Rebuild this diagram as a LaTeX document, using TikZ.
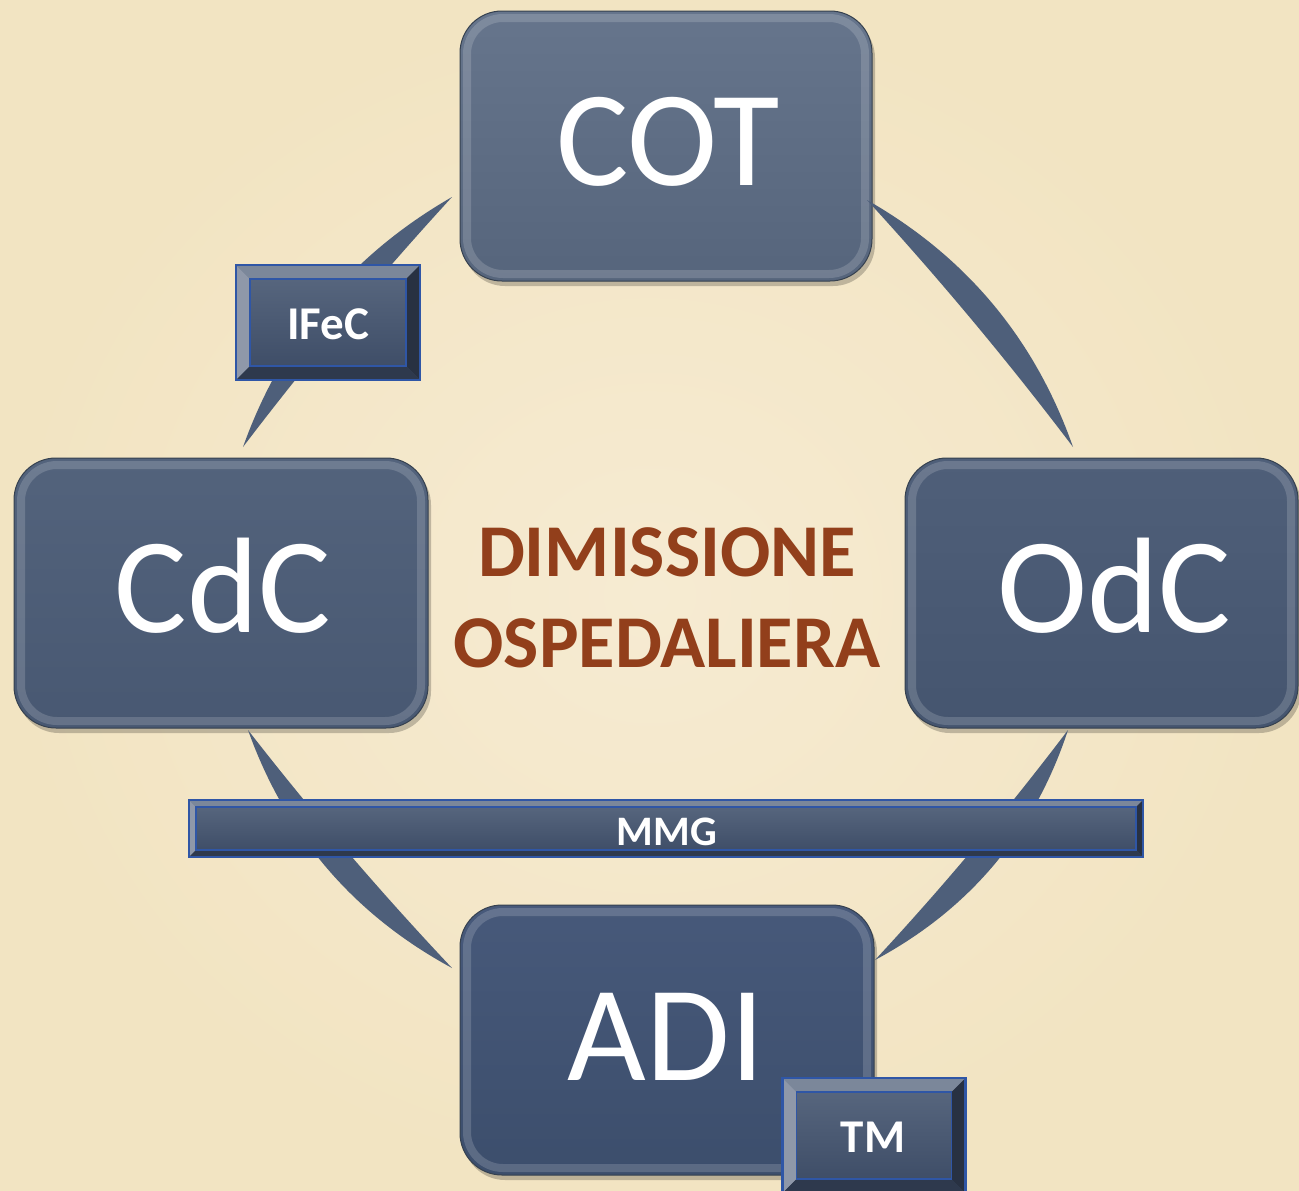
\documentclass[tikz,border=0pt]{standalone}
\usepackage{fontspec}
\setmainfont{Carlito}
\usetikzlibrary{calc}
\definecolor{bg}{HTML}{F2E4C2}
\definecolor{bgc}{HTML}{F6EBD2}
\definecolor{connc}{HTML}{4E5F7A}
\definecolor{cotT}{HTML}{66758C}
\definecolor{cotB}{HTML}{56657C}
\definecolor{cdcT}{HTML}{53637C}
\definecolor{cdcB}{HTML}{485872}
\definecolor{odcT}{HTML}{4F5F79}
\definecolor{odcB}{HTML}{45556F}
\definecolor{adiT}{HTML}{47597A}
\definecolor{adiB}{HTML}{3C4E6C}
\definecolor{boxline}{HTML}{36414F}
\definecolor{facetop}{HTML}{5A6981}
\definecolor{facebot}{HTML}{3B4A64}
\definecolor{bvtop}{HTML}{7B879A}
\definecolor{bvleft}{HTML}{8F98A9}
\definecolor{bvright}{HTML}{283142}
\definecolor{bvbot}{HTML}{2E394D}
\definecolor{bevblue}{HTML}{2F56A6}
\definecolor{brownc}{HTML}{923F1B}
\tikzset{
  bigbox/.style={rounded corners=42pt, draw=boxline, line width=1pt, inner sep=0pt, outer sep=0pt},
  conn/.style={fill=connc},
  bevnode/.style={top color=facetop, bottom color=facebot, inner sep=0pt, outer sep=0pt},
  biglbl/.style={text=white, font=\fontsize{136}{140}\selectfont, anchor=base, inner sep=0pt},
  smlbl/.style={text=white, font=\bfseries\fontsize{47}{50}\selectfont, anchor=base, inner sep=0pt},
  ctrlbl/.style={text=brownc, font=\bfseries\fontsize{74.5}{80}\selectfont, anchor=base, inner sep=0pt},
  hilite/.style={rounded corners=36pt, draw=white, draw opacity=0.16, line width=8pt},
  shadowc/.style={rounded corners=42pt, fill=black, fill opacity=0.22}
}
\newcommand\crescent[2]{%
  \coordinate (cp1) at ($(#1)!0.3333!(#2)$);
  \coordinate (cp2) at ($(#1)!0.6667!(#2)$);
  \fill[conn] (#1) .. controls ($(cp1)!40pt!90:(#2)$) and ($(cp2)!40pt!-90:(#1)$) .. (#2)
              .. controls ($(cp2)!5pt!-90:(#1)$) and ($(cp1)!5pt!90:(#2)$) .. (#1) -- cycle;}
\newcommand\bevbox[5]{%
  \node[bevnode, minimum width=#3pt, minimum height=#4pt] (#1) at (#2) {};
  \fill[bvtop] (#1.north west) -- (#1.north east) -- ($(#1.north east)+(-#5,#5)$) -- ($(#1.north west)+(#5,#5)$) -- cycle;
  \fill[bvleft] (#1.north west) -- ($(#1.north west)+(#5,#5)$) -- ($(#1.south west)+(#5,-#5)$) -- (#1.south west) -- cycle;
  \fill[bvright] (#1.north east) -- ($(#1.north east)+(-#5,#5)$) -- ($(#1.south east)+(-#5,-#5)$) -- (#1.south east) -- cycle;
  \fill[bvbot] (#1.south west) -- ($(#1.south west)+(#5,-#5)$) -- ($(#1.south east)+(-#5,-#5)$) -- (#1.south east) -- cycle;
  \draw[bevblue, line width=1.5pt] ($(#1.north west)+(#5,#5)$) rectangle ($(#1.south east)+(-#5,-#5)$);
  \draw[bevblue, line width=2.5pt] (#1.north west) rectangle (#1.south east);}
\newcommand\bigbx[5]{% name, center, width, top col, bottom col
  \fill[shadowc] ($(#2)+(-#3/2+3,-135+5)$) rectangle ($(#2)+(#3/2+3,135+5)$);
  \node[bigbox, top color=#4, bottom color=#5, minimum width=#3pt, minimum height=270pt] (#1) at (#2) {};
  \draw[hilite] ($(#1.north west)+(7,7)$) rectangle ($(#1.south east)+(-7,-7)$);}
\begin{document}
\begin{tikzpicture}[x=1pt,y=-1pt]
\useasboundingbox (0,0) rectangle (1299,1191);
\begin{scope}
\clip (0,0) rectangle (1299,1191);
\fill[inner color=bgc, outer color=bg] (0,0) rectangle (1299,1191);

% big boxes
\bigbx{COT}{666,146}{412}{cotT}{cotB}
\bigbx{CdC}{221,593}{414}{cdcT}{cdcB}
\bigbx{OdC}{1101.5,593}{393}{odcT}{odcB}
\bigbx{ADI}{667,1040}{414}{adiT}{adiB}

% connector end points
\coordinate (c1a) at ($(CdC.north)+(22,-11)$);
\coordinate (c1b) at ($(COT.west)+(-8,51)$);
\coordinate (c2a) at ($(COT.east)+(-5,54)$);
\coordinate (c2b) at ($(OdC.north)+(-28.5,-11)$);
\coordinate (c3a) at ($(OdC.south)+(-33.5,2)$);
\coordinate (c3b) at ($(ADI.east)+(1,-80)$);
\coordinate (c4a) at ($(ADI.west)+(-8,-72)$);
\coordinate (c4b) at ($(CdC.south)+(27,2)$);
\crescent{c1a}{c1b}
\crescent{c2a}{c2b}
\crescent{c3a}{c3b}
\crescent{c4a}{c4b}

% labels of big boxes
\node[biglbl] (COTt) at (668,185) {COT};
\node[biglbl] (CdCt) at (223,632) {CdC};
\node[biglbl] (OdCt) at (1114,632) {OdC};
\node[biglbl] (ADIt) at (666,1080) {ADI};

% centre text
\node[ctrlbl] (dim1) at (667,576) {DIMISSIONE};
\node[ctrlbl] (dim2) at (667,667) {OSPEDALIERA};

% bevelled boxes
\bevbox{MMG}{666,828.5}{954}{57}{7}
\node[smlbl, font=\bfseries\fontsize{42}{46}\selectfont] (MMGt) at (667,845) {MMG};
\bevbox{IFeC}{328,322.5}{184}{115}{14}
\node[smlbl] (IFeCt) at (328,339) {IFeC};
\bevbox{TM}{874,1135.5}{183}{115}{14}
\node[smlbl] (TMt) at (873,1152) {TM};
\end{scope}
\end{tikzpicture}
\end{document}
